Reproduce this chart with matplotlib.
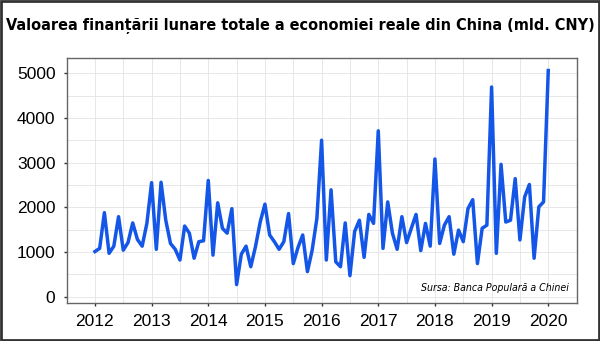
import matplotlib
matplotlib.use('Agg')
import matplotlib.pyplot as plt
import numpy as np
from matplotlib.patches import Rectangle

# lunar values, mld. CNY, Jan 2012 .. Jan 2020
v2012 = [1010, 1080, 1880, 970, 1130, 1790, 1040, 1210, 1650, 1280, 1130, 1640]
v2013 = [2550, 1060, 2560, 1710, 1190, 1060, 820, 1580, 1420, 860, 1230, 1250]
v2014 = [2600, 930, 2100, 1530, 1420, 1970, 270, 950, 1130, 670, 1120, 1670]
v2015 = [2070, 1380, 1230, 1060, 1230, 1860, 740, 1100, 1380, 560, 1040, 1750]
v2016 = [3500, 820, 2390, 780, 670, 1650, 470, 1460, 1710, 880, 1840, 1640]
v2017 = [3710, 1080, 2120, 1420, 1060, 1790, 1210, 1530, 1840, 1030, 1640, 1130]
v2018 = [3080, 1190, 1600, 1790, 950, 1490, 1230, 1970, 2170, 740, 1530, 1600]
v2019 = [4690, 970, 2960, 1670, 1710, 2640, 1270, 2230, 2510, 860, 2010, 2120]
v2020 = [5060]

values = v2012 + v2013 + v2014 + v2015 + v2016 + v2017 + v2018 + v2019 + v2020
years = [2012, 2013, 2014, 2015, 2016, 2017, 2018, 2019, 2020]

title = 'Valoarea finanțării lunare totale a economiei reale din China (mld. CNY)'
source = 'Sursa: Banca Populară a Chinei'

x = 2012 + np.arange(len(values)) / 12.0

fig = plt.figure(figsize=(6, 3.41), dpi=100)
ax = fig.add_axes([0.111, 0.1123, 0.85, 0.717])

ax.plot(x, values, color='#1456e8', lw=2.5)

ax.set_xlim(2011.61, 2020.41)
ax.set_ylim(-135, 5335)
ax.set_xticks(years)
ax.set_yticks(range(0, 5001, 1000))
ax.set_xticks(np.arange(2011.5, 2020.6, 1.0), minor=True)
ax.set_yticks(range(500, 5001, 1000), minor=True)
ax.grid(True, which='both', color='#e3e3e3', lw=0.6)
ax.set_axisbelow(True)
ax.tick_params(which='minor', length=0)
ax.tick_params(which='major', length=2, width=1, color='#333333', labelsize=12.5, pad=6)
for lab in ax.get_xticklabels() + ax.get_yticklabels():
    lab.set_family('Liberation Sans')
for s in ax.spines.values():
    s.set_color('#666666')
    s.set_linewidth(1)

fig.text(0.5, 0.925, title, ha='center', va='center', fontsize=11.6,
         fontweight='bold', fontstretch='condensed', family='DejaVu Sans')
ax.text(0.985, 0.04, source, transform=ax.transAxes, ha='right', va='bottom',
        fontsize=7.6, style='italic', fontstretch='condensed', family='DejaVu Sans')

fig.patches.append(Rectangle((0.002, 0.003), 0.996, 0.994, transform=fig.transFigure,
                             fill=False, edgecolor='#333333', lw=2))

fig.savefig('out.png', dpi=100)
